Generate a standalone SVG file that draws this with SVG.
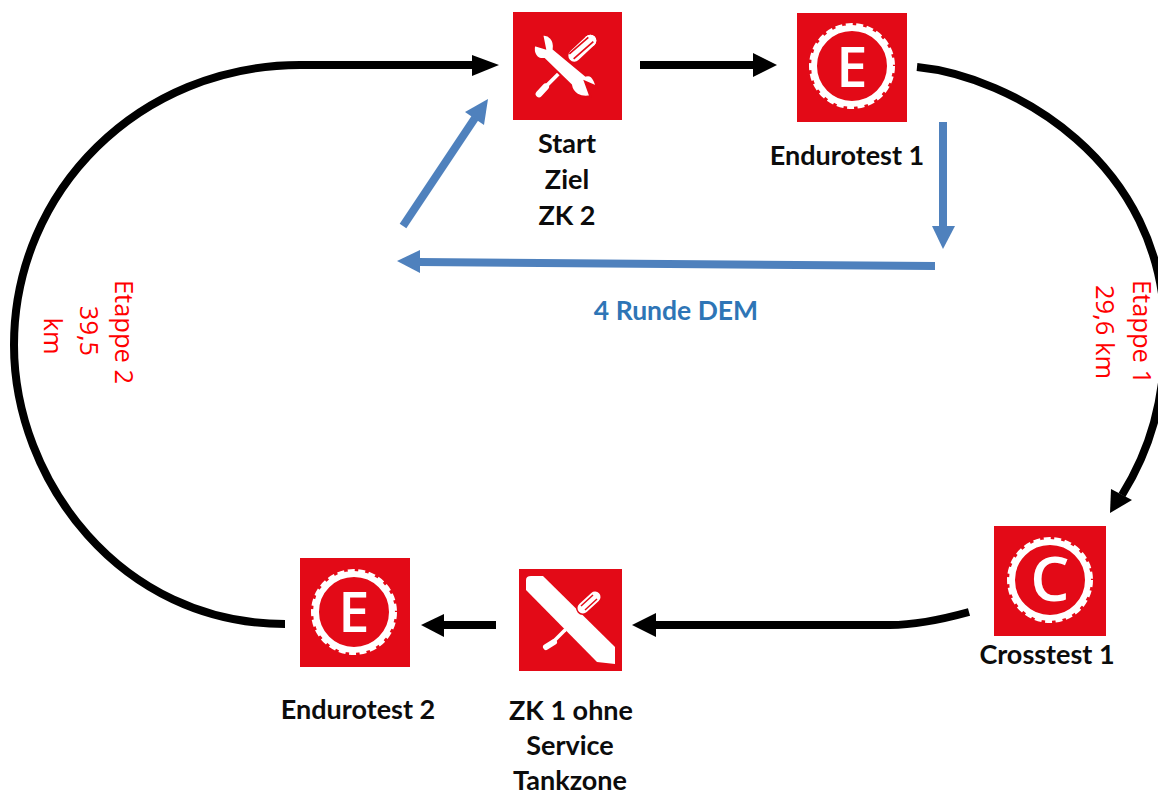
<svg xmlns="http://www.w3.org/2000/svg" xmlns:xlink="http://www.w3.org/1999/xlink" width="1158" height="796" viewBox="0 0 1158 796">
<style>
.bg{fill:#fff}
.box{fill:#e30a17}
.lbl{font-family:Lato,"Liberation Sans",sans-serif;font-weight:700;font-size:27px;fill:#0c0c0c;text-anchor:middle}
.blue-lbl{font-family:Lato,"Liberation Sans",sans-serif;font-weight:700;font-size:26.5px;fill:#2e75b6;text-anchor:middle}
.red{font-family:"Open Sans","Liberation Sans",sans-serif;font-size:25.5px;fill:#ff0000;text-anchor:middle}
.glyph{font-family:"Open Sans","Liberation Sans",sans-serif;font-weight:600;font-size:56px;fill:#fff;text-anchor:middle}
.blk{fill:none;stroke:#000;stroke-width:8}
.blu{fill:none;stroke:#4f81bd;stroke-width:8}
.ringA{fill:none;stroke:#fff;stroke-width:6}
.ringB{fill:none;stroke:#fff;stroke-width:3;stroke-dasharray:7 3.5}
.w{stroke:#fff;fill:none;stroke-linecap:round}
</style>
<defs>
<g id="gear">
<circle class="ringA" r="38"/>
<circle class="ringB" r="41.5"/>
</g>
</defs>
<rect class="bg" width="1158" height="796"/>
<g id="connectors">
<path class="blk" d="M481,65 L300,65 C140,65 14,190 14,345 C14,480 120,624 285,624"/>
<polygon points="499,65 472,55 472,76" fill="#000"/>
<path class="blk" d="M640,65 L755,65"/>
<polygon points="777,65 753,53 753,77" fill="#000"/>
<path class="blk" d="M917,67 C1010,76 1165,160 1165,335 C1165,400 1150,450 1122,495"/>
<polygon points="1110,513 1111,489 1132,500" fill="#000"/>
<path class="blk" d="M969,612 C940,620 915,625 890,625 L655,625"/>
<polygon points="632,625 656,613 656,637" fill="#000"/>
<path class="blk" d="M496,625 L440,625"/>
<polygon points="421,625 444,614 444,637" fill="#000"/>
<path class="blu" d="M943,122 L943,228"/>
<polygon points="943,249 932,226 955,226" fill="#4f81bd"/>
<path class="blu" d="M935,266 L418,262"/>
<polygon points="397,261 420,250 420,273" fill="#4f81bd"/>
<path class="blu" d="M403,226 L475,118"/>
<polygon points="488,99 484,125 465,112" fill="#4f81bd"/>
</g>
<g id="node-start">
<rect class="box" x="513" y="12" width="109" height="108"/>
<g transform="translate(525,25) scale(0.3333)">
<path class="w" stroke-width="11" d="M112,135 L62,185"/>
<path class="w" stroke-width="20" d="M62,185 L42,207"/>
<path class="w" stroke-width="36" stroke-linecap="butt" d="M148,92 L196,47"/>
<circle cx="196" cy="47" r="18" fill="#fff"/>
<path stroke="#e30a17" stroke-width="5" fill="none" d="M133,87 L190,37 M146,102 L205,50"/>
<path fill="#fff" stroke="#e30a17" stroke-width="6" d="M28,60 L60,70 L52,30 C72,26 90,45 86,72 L182,152 C195,148 205,152 215,185 L180,170 L196,214 C165,220 142,205 138,180 L58,102 C35,105 22,85 28,60 Z"/>
</g>
<text class="lbl" x="567" y="153">Start</text>
<text class="lbl" x="567" y="189">Ziel</text>
<text class="lbl" x="567" y="225">ZK 2</text>
</g>
<g id="node-endurotest-1">
<rect class="box" x="797" y="13" width="110" height="109"/>
<use xlink:href="#gear" href="#gear" x="852" y="66"/>
<text class="glyph" x="852" y="87">E</text>
<text class="lbl" x="847" y="165">Endurotest 1</text>
</g>
<g id="node-crosstest-1">
<rect class="box" x="994" y="526" width="112" height="110"/>
<use xlink:href="#gear" href="#gear" x="1050" y="580"/>
<text class="glyph" x="1050" y="601" style="font-size:62px">C</text>
<text class="lbl" x="1047" y="664">Crosstest 1</text>
</g>
<g id="node-zk1">
<rect class="box" x="519" y="569" width="103" height="102"/>
<path class="w" stroke-width="3.5" d="M565,630 L552,643"/>
<path class="w" stroke-width="6" d="M554,642 L546,647"/>
<path fill="#fff" d="M526,580 Q526,576 531,576 L543,576 L615,647 L615,664 L597,662 L526,590 Z"/>
<path stroke="#e30a17" stroke-width="14" stroke-linecap="round" fill="none" d="M583,608 L595,597"/>
<path class="w" stroke-width="11" d="M583,608 L595,597"/>
<path stroke="#e30a17" stroke-width="1.5" fill="none" d="M581,606 L593,595 M585,610 L597,599"/>
<text class="lbl" x="571" y="720">ZK 1 ohne</text>
<text class="lbl" x="570" y="755">Service</text>
<text class="lbl" x="570" y="790">Tankzone</text>
</g>
<g id="node-endurotest-2">
<rect class="box" x="300" y="558" width="110" height="109"/>
<use xlink:href="#gear" href="#gear" x="354" y="612"/>
<text class="glyph" x="354" y="632">E</text>
<text class="lbl" x="358" y="719">Endurotest 2</text>
</g>
<g id="labels">
<text class="blue-lbl" x="676" y="320">4 Runde DEM</text>
<text class="red" transform="translate(1133,332) rotate(90)">Etappe 1</text>
<text class="red" transform="translate(1096,332) rotate(90)">29,6 km</text>
<text class="red" transform="translate(115,332) rotate(90)">Etappe 2</text>
<text class="red" transform="translate(80,331) rotate(90)">39,5</text>
<text class="red" transform="translate(44,336) rotate(90)">km</text>
</g>
</svg>
